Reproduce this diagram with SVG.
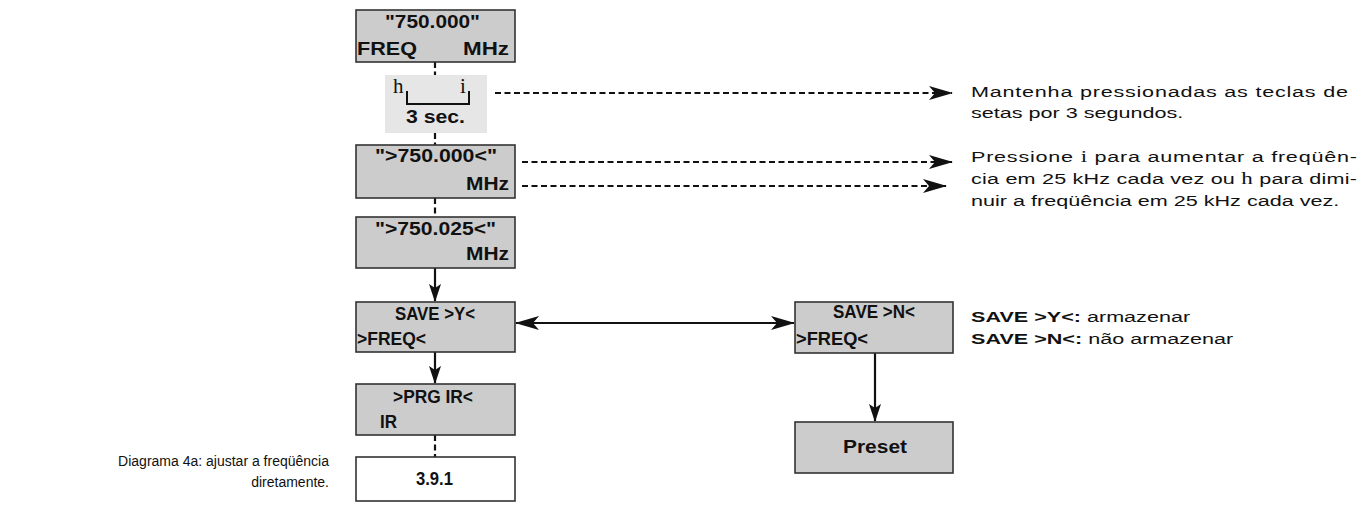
<svg xmlns="http://www.w3.org/2000/svg" width="1367" height="508" viewBox="0 0 1367 508">
<style>
.box{fill:#cccccc;stroke:#333333;stroke-width:1.6}
.wbox{fill:#ffffff;stroke:#333333;stroke-width:1.6}
.lbox{fill:#e6e6e6;stroke:none}
.bt{font-family:"Liberation Sans",Arial,sans-serif;font-weight:bold;font-size:18px;fill:#111111}
.ct{font-family:"Liberation Sans",Arial,sans-serif;font-weight:bold;font-size:19px;fill:#111111}
.sym{font-family:"Liberation Serif","Times New Roman",serif;font-size:21px;fill:#111111}
.rt{font-family:"Liberation Sans",Arial,sans-serif;font-size:15px;fill:#111111}
.cap{font-family:"Liberation Sans",Arial,sans-serif;font-size:14px;fill:#111111}
.rs{font-family:"Liberation Serif","Times New Roman",serif;font-size:16px}
.rb{font-weight:bold}
.dash{stroke:#111111;stroke-width:2.2;stroke-dasharray:6 3.5;fill:none}
.sol{stroke:#111111;stroke-width:2.2;fill:none}
</style>
<defs>
<marker id="ah" markerWidth="24" markerHeight="14" refX="23" refY="7" orient="auto-start-reverse" markerUnits="userSpaceOnUse">
<path d="M0,0 L24,7 L0,14 L6,7 z" fill="#111111"/>
</marker>
<marker id="ahs" markerWidth="18" markerHeight="12" refX="17" refY="6" orient="auto" markerUnits="userSpaceOnUse">
<path d="M0,0 L18,6 L0,12 L4,6 z" fill="#111111"/>
</marker>
</defs>

<g id="connectors">
<line class="dash" x1="435" y1="62" x2="435" y2="75"/>
<line class="dash" x1="435" y1="133" x2="435" y2="145"/>
<line class="dash" x1="435" y1="198" x2="435" y2="217"/>
<line class="sol" x1="435" y1="268" x2="435" y2="301" marker-end="url(#ahs)"/>
<line class="sol" x1="435" y1="352" x2="435" y2="383" marker-end="url(#ahs)"/>
<line class="dash" x1="435" y1="435" x2="435" y2="457"/>
<line class="sol" x1="516" y1="323" x2="794" y2="323" marker-start="url(#ah)" marker-end="url(#ah)"/>
<line class="sol" x1="875" y1="353" x2="875" y2="421" marker-end="url(#ahs)"/>
<line class="dash" x1="495" y1="93" x2="952" y2="93" marker-end="url(#ah)"/>
<line class="dash" x1="522" y1="162" x2="952" y2="162" marker-end="url(#ah)"/>
<line class="dash" x1="522" y1="186" x2="946" y2="186" marker-end="url(#ah)"/>
</g>

<g id="n1">
<rect class="box" x="356" y="10" width="159" height="52"/>
<text class="bt" x="385" y="28" textLength="95" lengthAdjust="spacingAndGlyphs">"750.000"</text>
<text class="bt" x="357" y="55" textLength="60" lengthAdjust="spacingAndGlyphs">FREQ</text>
<text class="bt" x="463" y="55" textLength="46" lengthAdjust="spacingAndGlyphs">MHz</text>
</g>

<g id="n2">
<rect class="lbox" x="385" y="75" width="102" height="58"/>
<text class="sym" x="393" y="93">h</text>
<text class="sym" x="460" y="93">i</text>
<path d="M407,91 V104 H469 V91" fill="none" stroke="#111111" stroke-width="2"/>
<text class="bt" x="406" y="123" textLength="59" lengthAdjust="spacingAndGlyphs">3 sec.</text>
</g>

<g id="n3">
<rect class="box" x="356" y="145" width="159" height="53"/>
<text class="bt" x="375" y="162" textLength="122" lengthAdjust="spacingAndGlyphs">"&gt;750.000&lt;"</text>
<text class="bt" x="466" y="190" textLength="43" lengthAdjust="spacingAndGlyphs">MHz</text>
</g>

<g id="n4">
<rect class="box" x="356" y="217" width="159" height="51"/>
<text class="bt" x="375" y="235" textLength="121" lengthAdjust="spacingAndGlyphs">"&gt;750.025&lt;"</text>
<text class="bt" x="466" y="260" textLength="43" lengthAdjust="spacingAndGlyphs">MHz</text>
</g>

<g id="n5">
<rect class="box" x="356" y="302" width="159" height="50"/>
<text class="ct" x="395" y="320" textLength="80" lengthAdjust="spacingAndGlyphs">SAVE &gt;Y&lt;</text>
<text class="ct" x="357" y="345" textLength="69" lengthAdjust="spacingAndGlyphs">&gt;FREQ&lt;</text>
</g>

<g id="n6">
<rect class="box" x="356" y="384" width="159" height="51"/>
<text class="ct" x="393" y="403" textLength="80" lengthAdjust="spacingAndGlyphs">&gt;PRG IR&lt;</text>
<text class="ct" x="380" y="428" textLength="17" lengthAdjust="spacingAndGlyphs">IR</text>
</g>

<g id="n7">
<rect class="wbox" x="356" y="457" width="159" height="44"/>
<text class="ct" x="416" y="485" textLength="37" lengthAdjust="spacingAndGlyphs">3.9.1</text>
</g>

<g id="n8">
<rect class="box" x="795" y="302" width="158" height="51"/>
<text class="ct" x="833" y="318" textLength="82" lengthAdjust="spacingAndGlyphs">SAVE &gt;N&lt;</text>
<text class="ct" x="796" y="345" textLength="72" lengthAdjust="spacingAndGlyphs">&gt;FREQ&lt;</text>
</g>

<g id="n9">
<rect class="box" x="795" y="422" width="158" height="51"/>
<text class="bt" x="843" y="453" textLength="64" lengthAdjust="spacingAndGlyphs">Preset</text>
</g>

<g id="notes" transform="translate(971,0) scale(1.44,1)">
<text class="rt" x="0" y="97" textLength="261.8" lengthAdjust="spacing">Mantenha pressionadas as teclas de</text>
<text class="rt" x="0" y="118">setas por 3 segundos.</text>
<text class="rt" x="0" y="162" textLength="268" lengthAdjust="spacing">Pressione <tspan class="rs">i</tspan>  para aumentar a freqüên-</text>
<text class="rt" x="0" y="184" textLength="268" lengthAdjust="spacing">cia em 25 kHz cada vez ou <tspan class="rs">h</tspan>  para dimi-</text>
<text class="rt" x="0" y="206">nuir a freqüência em 25 kHz cada vez.</text>
<text class="rt" x="0" y="322"><tspan class="rb">SAVE &gt;Y&lt;:</tspan> armazenar</text>
<text class="rt" x="0" y="344"><tspan class="rb">SAVE &gt;N&lt;:</tspan> não armazenar</text>
</g>

<g id="caption">
<text class="cap" x="329" y="466" text-anchor="end">Diagrama 4a: ajustar a freqüência</text>
<text class="cap" x="329" y="487" text-anchor="end">diretamente.</text>
</g>
</svg>
